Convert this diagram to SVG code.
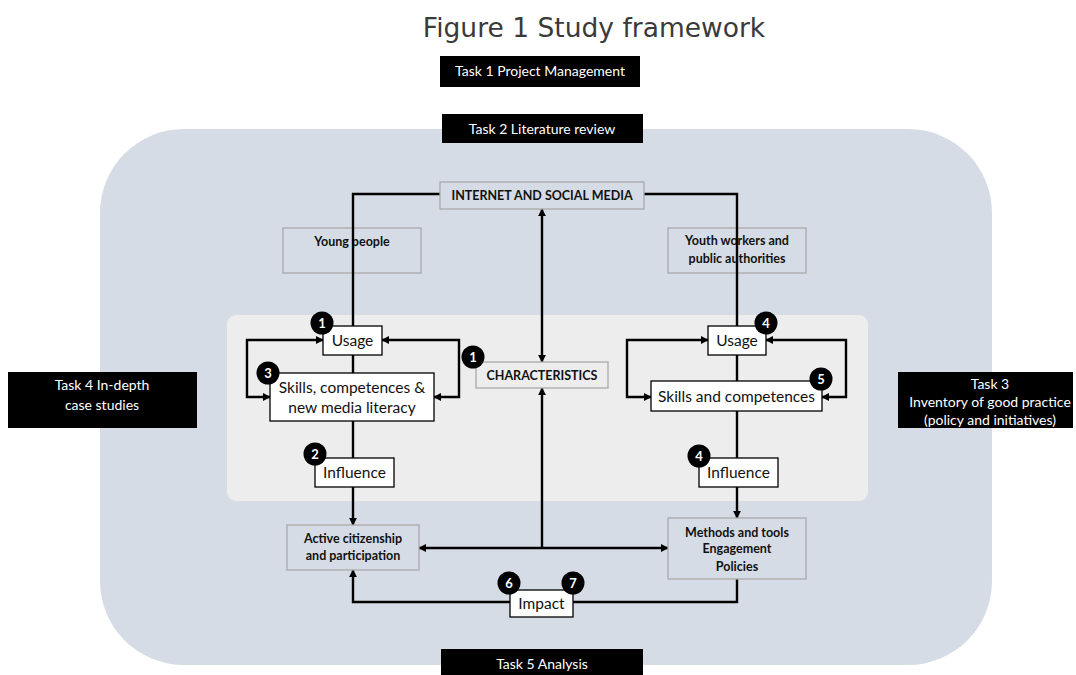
<svg xmlns="http://www.w3.org/2000/svg" width="1076" height="675" viewBox="0 0 1076 675">
  <defs>
    <marker id="arr" viewBox="0 0 10 10" refX="9" refY="5" markerWidth="8" markerHeight="8" markerUnits="userSpaceOnUse" orient="auto-start-reverse">
      <path d="M0,0 L10,5 L0,10 z" fill="#000"/>
    </marker>
    <style>
      text { font-family: Lato, "Liberation Sans", sans-serif; }
      .title { font-family: "DejaVu Sans", Verdana, sans-serif; font-size: 26.5px; fill: #3a3a3a; }
      .task rect { fill: #000; }
      .task text { fill: #fff; font-size: 14px; text-anchor: middle; }
      .grey rect { stroke: #a9a9a9; stroke-width: 1.3; }
      .grey text { font-size: 12.5px; font-weight: bold; fill: #111; text-anchor: middle; }
      .white rect { fill: #fff; stroke: #000; stroke-width: 1.3; }
      .white text { font-size: 15.5px; fill: #111; text-anchor: middle; }
      .badge circle { fill: #000; }
      .badge text { fill: #fff; font-size: 13px; font-weight: bold; text-anchor: middle; }
      .conn { fill: none; stroke: #000; stroke-width: 2.4; }
    </style>
  </defs>

  <rect width="1076" height="675" fill="#fff"/>

  <!-- title -->
  <text class="title" x="594" y="37" text-anchor="middle">Figure 1 Study framework</text>

  <!-- backgrounds -->
  <rect id="outer-panel" x="100" y="129" width="892" height="536" rx="84" ry="84" fill="#d6dce5"/>
  <rect id="inner-panel" x="227" y="315" width="641" height="186" rx="9" ry="9" fill="#ededed"/>

  <!-- outline-only stakeholder boxes (connectors show through) -->
  <g id="young-people" class="grey">
    <rect x="283" y="228" width="138" height="45" fill="none"/>
    <text x="352" y="246">Young people</text>
  </g>
  <g id="youth-workers" class="grey">
    <rect x="668" y="228" width="138" height="45" fill="none"/>
    <text x="737" y="245">Youth workers and</text>
    <text x="737" y="263">public authorities</text>
  </g>

  <!-- connectors -->
  <g id="connectors" class="conn">
    <!-- internet frame down to both columns -->
    <path d="M440,194 H353 V326"/>
    <path d="M644,194 H737 V326"/>
    <!-- left column -->
    <path d="M353,355 V373"/>
    <path d="M353,421 V458"/>
    <path d="M353,487 V525" marker-end="url(#arr)"/>
    <path d="M323,340 H247 V397 H270" marker-start="url(#arr)" marker-end="url(#arr)"/>
    <path d="M382,340 H459 V397 H434" marker-start="url(#arr)" marker-end="url(#arr)"/>
    <!-- right column -->
    <path d="M737,355 V381"/>
    <path d="M737,411 V458"/>
    <path d="M737,487 V518" marker-end="url(#arr)"/>
    <path d="M708,340 H627 V397 H651" marker-start="url(#arr)" marker-end="url(#arr)"/>
    <path d="M766,340 H846 V397 H822" marker-start="url(#arr)" marker-end="url(#arr)"/>
    <!-- centre axis -->
    <path d="M542,209 V362" marker-start="url(#arr)" marker-end="url(#arr)"/>
    <path d="M542,388 V548" marker-start="url(#arr)"/>
    <path d="M419,548 H668" marker-start="url(#arr)" marker-end="url(#arr)"/>
    <!-- impact loop -->
    <path d="M737,579 V602 H353 V570" marker-end="url(#arr)"/>
  </g>

  <!-- task boxes -->
  <g id="task1" class="task">
    <rect x="440" y="56" width="200" height="31"/>
    <text x="540" y="76">Task 1 Project Management</text>
  </g>
  <g id="task2" class="task">
    <rect x="442" y="114" width="201" height="29"/>
    <text x="542" y="134">Task 2 Literature review</text>
  </g>
  <g id="task4" class="task">
    <rect x="8" y="372" width="189" height="56"/>
    <text x="102" y="390">Task 4 In-depth</text>
    <text x="102" y="410">case studies</text>
  </g>
  <g id="task3" class="task">
    <rect x="898" y="372" width="175" height="56"/>
    <text x="990" y="389">Task 3</text>
    <text x="990" y="407">Inventory of good practice</text>
    <text x="990" y="425">(policy and initiatives)</text>
  </g>
  <g id="task5" class="task">
    <rect x="441" y="649" width="202" height="26"/>
    <text x="542" y="669">Task 5 Analysis</text>
  </g>

  <!-- grey concept boxes -->
  <g id="internet" class="grey">
    <rect x="440" y="182" width="204" height="27" fill="#d6dce5"/>
    <text x="542" y="200">INTERNET AND SOCIAL MEDIA</text>
  </g>
  <g id="characteristics" class="grey">
    <rect x="476" y="362" width="132" height="26" fill="#ededed"/>
    <text x="542" y="380">CHARACTERISTICS</text>
  </g>
  <g id="active-citizenship" class="grey">
    <rect x="287" y="525" width="132" height="45" fill="#d6dce5"/>
    <text x="353" y="543">Active citizenship</text>
    <text x="353" y="560">and participation</text>
  </g>
  <g id="methods-tools" class="grey">
    <rect x="668" y="518" width="138" height="61" fill="#d6dce5"/>
    <text x="737" y="537">Methods and tools</text>
    <text x="737" y="553">Engagement</text>
    <text x="737" y="571">Policies</text>
  </g>

  <!-- white process boxes -->
  <g id="usage-left" class="white">
    <rect x="323" y="326" width="59" height="29"/>
    <text x="352.5" y="346">Usage</text>
  </g>
  <g id="skills-left" class="white">
    <rect x="270" y="373" width="164" height="48"/>
    <text x="352" y="393">Skills, competences &amp;</text>
    <text x="352" y="413">new media literacy</text>
  </g>
  <g id="influence-left" class="white">
    <rect x="315" y="458" width="79" height="29"/>
    <text x="354.5" y="478">Influence</text>
  </g>
  <g id="usage-right" class="white">
    <rect x="708" y="326" width="58" height="29"/>
    <text x="737" y="346">Usage</text>
  </g>
  <g id="skills-right" class="white">
    <rect x="651" y="381" width="171" height="30"/>
    <text x="736.5" y="402">Skills and competences</text>
  </g>
  <g id="influence-right" class="white">
    <rect x="699" y="458" width="79" height="29"/>
    <text x="738.5" y="478">Influence</text>
  </g>
  <g id="impact" class="white">
    <rect x="510" y="590" width="63" height="27"/>
    <text x="541.5" y="609">Impact</text>
  </g>

  <!-- numbered badges -->
  <g id="badges" class="badge">
    <circle cx="322" cy="323" r="11.5"/><text x="322" y="327.5">1</text>
    <circle cx="268" cy="373" r="11.5"/><text x="268" y="377.5">3</text>
    <circle cx="315" cy="454" r="11.5"/><text x="315" y="458.5">2</text>
    <circle cx="473" cy="357" r="11.5"/><text x="473" y="361.5">1</text>
    <circle cx="766" cy="323" r="11.5"/><text x="766" y="327.5">4</text>
    <circle cx="821" cy="379" r="11.5"/><text x="821" y="383.5">5</text>
    <circle cx="699" cy="456" r="11.5"/><text x="699" y="460.5">4</text>
    <circle cx="509" cy="583" r="11.5"/><text x="509" y="587.5">6</text>
    <circle cx="573" cy="583" r="11.5"/><text x="573" y="587.5">7</text>
  </g>
</svg>
